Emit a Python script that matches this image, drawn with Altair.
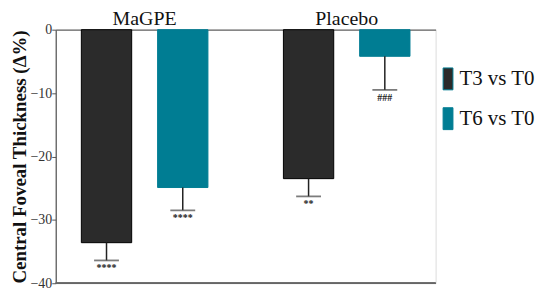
import altair as alt
import pandas as pd

groups = ["MaGPE", "MaGPE", "Placebo", "Placebo"]
series = ["T3 vs T0", "T6 vs T0", "T3 vs T0", "T6 vs T0"]
values = [-33.6, -24.9, -23.5, -4.2]
err_low = [-36.4, -28.5, -26.3, -9.5]
stars = ["****", "****", "**", "###"]

df = pd.DataFrame({"group": groups, "series": series, "value": values,
                   "err": err_low, "star": stars})

FONT = "Liberation Serif"
colors = ["#2b2b2b", "#007d93"]

x = alt.X("group:N", title=None,
          scale=alt.Scale(paddingInner=0.2, paddingOuter=0.04),
          axis=alt.Axis(orient="top", labelAngle=0, labelFont=FONT, labelFontSize=20,
                        labelColor="#111", ticks=False, domain=True, domainColor="#666",
                        domainWidth=1.2, labelPadding=1))
xo = alt.XOffset("series:N", scale=alt.Scale(paddingInner=0.34, paddingOuter=0.23))
y = alt.Y("value:Q", scale=alt.Scale(domain=[-40, 0], nice=False),
          title="Central Foveal Thickness (Δ%)",
          axis=alt.Axis(values=[0, -10, -20, -30, -40], labelFont=FONT, labelFontSize=14,
                        labelColor="#333", tickColor="#555", tickSize=4, domainColor="#555",
                        domainWidth=1.2, grid=False, titleFont=FONT, titleFontSize=19,
                        titleFontWeight="bold", titleColor="#111", titlePadding=1,
                        labelPadding=0))

bars = alt.Chart(df).mark_bar(strokeWidth=1).encode(
    x=x, xOffset=xo, y=y, y2=alt.datum(0),
    color=alt.Color("series:N", scale=alt.Scale(range=colors), title=None,
                    legend=alt.Legend(orient="none", legendX=383, legendY=38,
                                      symbolType="M-0.45,-1L0.45,-1L0.45,1L-0.45,1Z",
                                      symbolSize=484, symbolStrokeWidth=1,
                                      labelFont=FONT, labelFontSize=21, labelColor="#111",
                                      rowPadding=13, labelOffset=0, padding=0)),
    stroke=alt.condition(alt.datum.series == "T3 vs T0", alt.value("#000"), alt.value("#007d93")),
)

rule = alt.Chart(df).mark_rule(color="#222", strokeWidth=1.5).encode(
    x=alt.X("group:N"), xOffset=xo, y=alt.Y("value:Q"), y2="err:Q")

cap = alt.Chart(df).mark_tick(color="#444", thickness=1.8, size=25, orient="horizontal").encode(
    x=alt.X("group:N"), xOffset=xo, y=alt.Y("err:Q"))

txt = alt.Chart(df).mark_text(font=FONT, fontSize=10, fontWeight="bold", color="#222",
                              baseline="top", dy=3).encode(
    x=alt.X("group:N"), xOffset=xo, y=alt.Y("err:Q"), text="star:N")

bottom = alt.Chart(df).mark_rule(color="#666", strokeWidth=1.5).encode(
    y=alt.datum(-40), x=alt.value(0), x2=alt.value(382))

chart = alt.layer(bars, rule, cap, txt, bottom).properties(
    width=382, height=255,
    autosize=alt.AutoSizeParams(type="none"),
    padding={"left": 48, "top": 21, "right": 107, "bottom": 7},
).configure_view(stroke=None).configure(background="white")

chart.save("out.html", embed_options={"renderer": "svg", "actions": False})
